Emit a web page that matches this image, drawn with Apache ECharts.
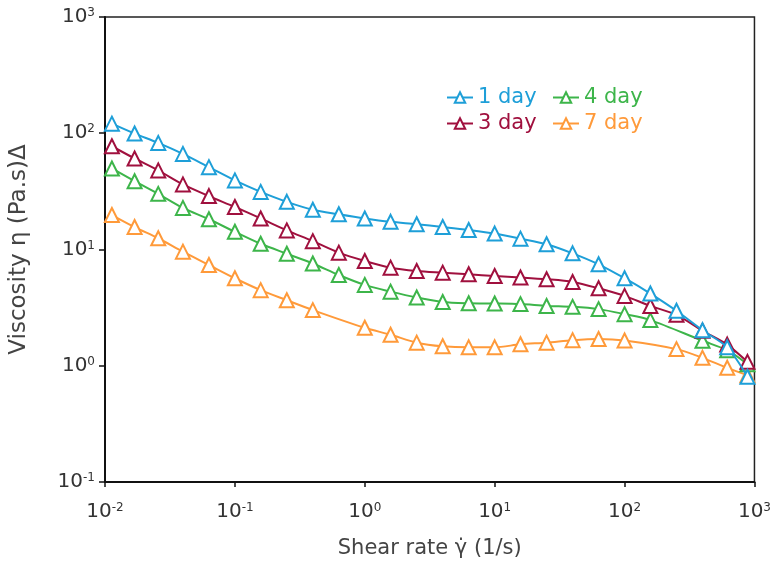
<!DOCTYPE html>
<html>
<head>
<meta charset="utf-8">
<script src="https://cdn.jsdelivr.net/npm/echarts@6/dist/echarts.min.js"></script>
<style>html,body{margin:0;padding:0;background:#fff;}#chart{width:774px;height:568px;}</style>
</head>
<body>
<div id="chart"></div>
<script>
var shearRate = [0.0113, 0.0169, 0.0257, 0.0398, 0.0631, 0.1, 0.158, 0.251, 0.398, 0.631, 1.0, 1.58, 2.51, 3.98, 6.31, 10, 15.8, 25.1, 39.8, 63.1, 100, 158, 251, 398, 617, 883];
var day1 = [121, 99.4, 82.6, 66.4, 51.1, 39.3, 31.3, 25.7, 22.0, 20.1, 18.5, 17.3, 16.5, 15.6, 14.7, 13.7, 12.4, 11.1, 9.27, 7.46, 5.66, 4.18, 2.97, 2.02, 1.44, 0.805];
var day3 = [77.3, 60.7, 47.9, 36.3, 28.8, 23.2, 18.5, 14.6, 11.8, 9.39, 7.97, 6.98, 6.54, 6.32, 6.12, 5.92, 5.75, 5.55, 5.26, 4.64, 3.99, 3.27, 2.74, 2.0, 1.52, 1.08];
var day4 = [49.8, 38.7, 30.1, 22.8, 18.2, 14.2, 11.2, 9.2, 7.58, 6.04, 4.96, 4.34, 3.86, 3.54, 3.45, 3.43, 3.39, 3.27, 3.21, 3.07, 2.78, 2.47, null, 1.64, 1.36, 1.03];
var day7 = [19.8, 15.6, 12.5, 9.58, 7.36, 5.66, 4.47, 3.66, 3.01, null, 2.12, 1.85, 1.58, 1.47, 1.44, 1.44, 1.53, 1.58, 1.66, 1.70, 1.65, null, 1.39, 1.17, 0.96, 0.83];
var seriesNames = ['1 day', '3 day', '4 day', '7 day'];
var seriesColors = ['#1E9FD8', '#A0103E', '#3DB54A', '#FF9A3A'];

var FONT = 'DejaVu Sans';
function pairs(ys) {
  var out = [];
  for (var i = 0; i < shearRate.length; i++) {
    if (ys[i] !== null) out.push([shearRate[i], ys[i]]);
  }
  return out;
}
function powLabel(v) {
  var e = Math.round(Math.log(v) / Math.LN10);
  return '{b|10}{e|' + e + '}';
}
var richLbl = {
  b: {fontFamily: FONT, fontSize: 20, color: '#333'},
  e: {fontFamily: FONT, fontSize: 12, color: '#333', verticalAlign: 'top', padding: [0, 0, 8, 0]}
};
var allData = [day1, day3, day4, day7];
var series = allData.map(function (d, i) {
  return {
    name: seriesNames[i],
    type: 'line',
    data: pairs(d),
    smooth: 0.3,
    symbol: 'emptyTriangle',
    symbolSize: 14,
    color: seriesColors[i],
    lineStyle: {width: 2, color: seriesColors[i]},
    itemStyle: {color: seriesColors[i], borderWidth: 2},
    z: 10 - i
  };
});
var chart = echarts.init(document.getElementById('chart'), null, {renderer: 'canvas'});
chart.setOption({
  animation: false,
  backgroundColor: '#fff',
  grid: {left: 104, right: 19, top: 17, bottom: 86, show: true, borderColor: '#222', borderWidth: 1.5},
  legend: [
    {
      orient: 'vertical', left: 441, top: 82, itemGap: 5, itemWidth: 26, itemHeight: 13,
      data: [
        {name: '1 day', textStyle: {color: seriesColors[0]}},
        {name: '3 day', textStyle: {color: seriesColors[1]}}
      ],
      textStyle: {fontFamily: FONT, fontSize: 21}
    },
    {
      orient: 'vertical', left: 547, top: 82, itemGap: 5, itemWidth: 26, itemHeight: 13,
      data: [
        {name: '4 day', textStyle: {color: seriesColors[2]}},
        {name: '7 day', textStyle: {color: seriesColors[3]}}
      ],
      textStyle: {fontFamily: FONT, fontSize: 21}
    }
  ],
  xAxis: {
    type: 'log', logBase: 10, min: 0.01, max: 1000,
    name: 'Shear rate γ̇ (1/s)', nameLocation: 'middle', nameGap: 56,
    nameTextStyle: {fontFamily: FONT, fontSize: 21, color: '#444'},
    axisLine: {lineStyle: {color: '#111', width: 2}},
    axisTick: {show: true, length: 5, lineStyle: {color: '#111', width: 1.5}},
    splitLine: {show: false},
    axisLabel: {margin: 20, formatter: powLabel, rich: richLbl}
  },
  yAxis: {
    type: 'log', logBase: 10, min: 0.1, max: 1000,
    name: 'Viscosity η (Pa.s)Δ', nameLocation: 'middle', nameGap: 74, nameRotate: 90,
    nameTextStyle: {fontFamily: FONT, fontSize: 23, color: '#444'},
    axisLine: {lineStyle: {color: '#111', width: 2}},
    axisTick: {show: true, length: 6, lineStyle: {color: '#111', width: 1.5}},
    splitLine: {show: false},
    axisLabel: {margin: 10, formatter: powLabel, rich: richLbl}
  },
  series: series
});
</script>
</body>
</html>
